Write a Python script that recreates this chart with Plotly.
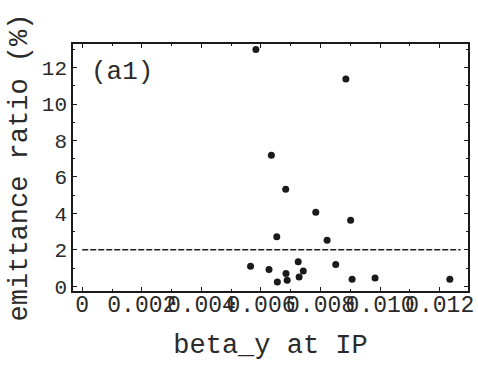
import plotly.graph_objects as go

# data
beta_y = [0.00583, 0.00885, 0.00635, 0.00683, 0.00784, 0.00901, 0.00653, 0.00822,
          0.00565, 0.00627, 0.00725, 0.00742, 0.00851, 0.00655, 0.00684, 0.00688,
          0.00728, 0.00906, 0.00983, 0.01234]
emit_ratio = [13.0, 11.38, 7.19, 5.32, 4.07, 3.62, 2.72, 2.53,
              1.10, 0.92, 1.34, 0.84, 1.20, 0.24, 0.70, 0.33,
              0.51, 0.39, 0.46, 0.39]
ref_x = [0.0, 0.0127]
ref_y = [2.0, 2.0]

x_tickvals = [0, 0.002, 0.004, 0.006, 0.008, 0.010, 0.012]
x_ticktext = ["0", "0.002", "0.004", "0.006", "0.008", "0.010", "0.012"]
y_tickvals = [0, 2, 4, 6, 8, 10, 12]
y_ticktext = ["0", "2", "4", "6", "8", "10", "12"]

FONT = "Liberation Mono, DejaVu Sans Mono, monospace"
INK = "#1a1a1a"

fig = go.Figure()
fig.add_trace(go.Scatter(x=ref_x, y=ref_y, mode="lines",
                         line=dict(color="#222222", width=1.5, dash="6px,2px"),
                         showlegend=False, hoverinfo="skip"))
fig.add_trace(go.Scatter(x=beta_y, y=emit_ratio, mode="markers",
                         marker=dict(color=INK, size=7),
                         showlegend=False))

fig.add_annotation(text="(a1)", xref="paper", yref="paper", x=0.04, y=0.885,
                   xanchor="left", yanchor="middle", showarrow=False,
                   font=dict(family=FONT, size=26, color="#2a2a2a"))

axis_common = dict(showline=True, linecolor=INK, linewidth=1.5, mirror="allticks",
                   showgrid=False, zeroline=False, ticks="inside", ticklen=4,
                   tickcolor=INK, tickwidth=1,
                   minor=dict(ticks="inside", ticklen=2, tickcolor=INK, nticks=5))

fig.update_xaxes(range=[-0.00031, 0.01295], tickvals=x_tickvals, ticktext=x_ticktext,
                 tickangle=0, tickfont=dict(family=FONT, size=23, color="#2a2a2a"),
                 ticklabelstandoff=-8,
                 title=dict(text="beta_y at IP", font=dict(family=FONT, size=27, color="#2a2a2a"),
                            standoff=16),
                 **axis_common)
fig.update_yaxes(range=[-0.26, 13.3], tickvals=y_tickvals, ticktext=y_ticktext,
                 tickfont=dict(family=FONT, size=21, color="#2a2a2a"),
                 title=dict(text="emittance ratio (%)", font=dict(family=FONT, size=27, color="#2a2a2a"),
                            standoff=6),
                 **axis_common)

fig.update_layout(width=478, height=372, margin=dict(l=73, r=10, t=44, b=81, autoexpand=False),
                  paper_bgcolor="white", plot_bgcolor="white")

fig.write_html("out.html")
